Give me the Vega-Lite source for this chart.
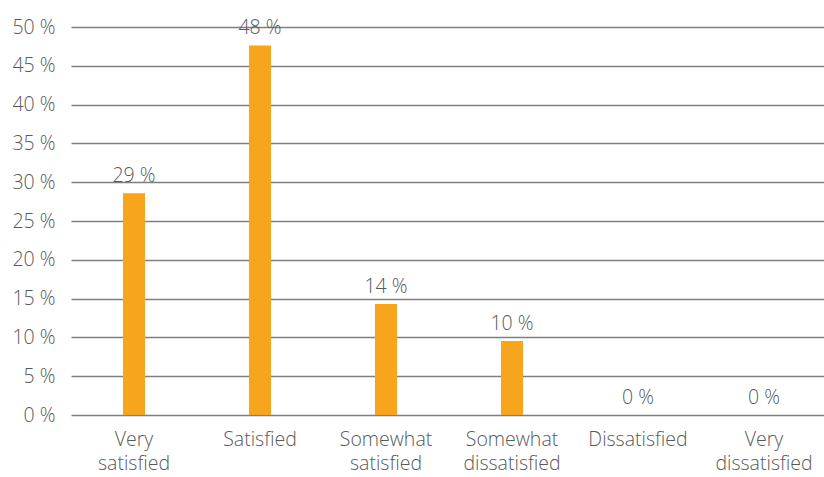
{
  "$schema": "https://vega.github.io/schema/vega-lite/v6.json",
  "width": 756,
  "height": 388,
  "autosize": "none",
  "padding": {"left": 71, "top": 27, "right": 0, "bottom": 62},
  "background": "white",
  "config": {
    "view": {"stroke": null},
    "font": "Open Sans",
    "axis": {"labelFont": "Open Sans", "labelColor": "#595959", "labelFontSize": 19.5, "labelFontWeight": 300}
  },
  "data": {
    "values": [
      {"category": "Very satisfied", "value": 0.2857, "label": "29 %"},
      {"category": "Satisfied", "value": 0.4762, "label": "48 %"},
      {"category": "Somewhat satisfied", "value": 0.1429, "label": "14 %"},
      {"category": "Somewhat dissatisfied", "value": 0.0952, "label": "10 %"},
      {"category": "Dissatisfied", "value": 0, "label": "0 %"},
      {"category": "Very dissatisfied", "value": 0, "label": "0 %"}
    ]
  },
  "encoding": {
    "x": {
      "field": "category",
      "type": "nominal",
      "sort": null,
      "scale": {"paddingInner": 0.825, "paddingOuter": 0.4125},
      "axis": {
        "title": null,
        "labelAngle": 0,
        "ticks": false,
        "domain": false,
        "labelPadding": 15,
        "labelExpr": "split(datum.label, ' ')",
        "labelLineHeight": 24,
        "labelBaseline": "top",
        "labelAlign": "center",
        "labelOverlap": false
      }
    },
    "y": {
      "field": "value",
      "type": "quantitative",
      "scale": {"domain": [0, 0.5], "nice": false},
      "axis": {
        "title": null,
        "values": [0, 0.05, 0.1, 0.15, 0.2, 0.25, 0.3, 0.35, 0.4, 0.45, 0.5],
        "labelExpr": "round(datum.value * 100) + ' %'",
        "labelOverlap": false,
        "labelFlush": false,
        "ticks": false,
        "domain": false,
        "labelPadding": 16,
        "grid": true,
        "gridColor": "#7f7f7f",
        "gridWidth": 1.5,
        "gridOpacity": 1,
        "zindex": 0
      }
    }
  },
  "layer": [
    {
      "mark": {"type": "bar", "color": "#F7A51D"}
    },
    {
      "mark": {"type": "text", "dy": -11, "baseline": "alphabetic", "font": "Open Sans", "fontWeight": 300, "fontSize": 19.5, "color": "#595959"},
      "encoding": {
        "text": {"field": "label"}
      }
    }
  ]
}
